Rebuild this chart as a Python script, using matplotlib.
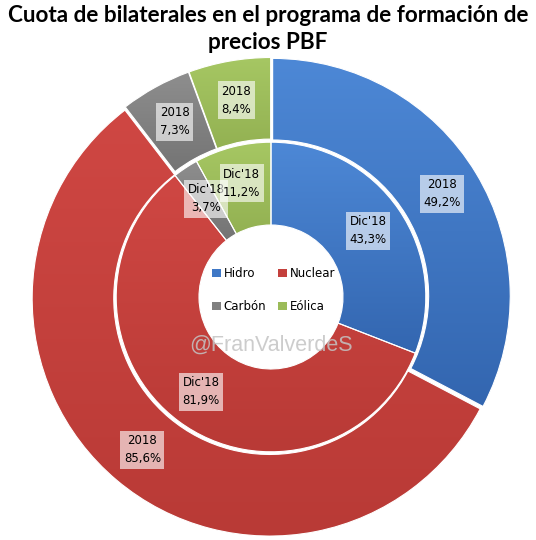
import matplotlib
matplotlib.use("Agg")
import matplotlib.pyplot as plt
import numpy as np
from matplotlib.colors import to_rgb
from matplotlib.patches import Patch

# ---- data ----
categories = ["Hidro", "Nuclear", "Carbón", "Eólica"]
vals_2018 = [49.2, 85.6, 7.3, 8.4]
vals_dic18 = [43.3, 81.9, 3.7, 11.2]
outer_tag = "2018"
inner_tag = "Dic'18"
title = "Cuota de bilaterales en el programa de formación de\nprecios PBF"
watermark = "@FranValverdeS"

# ---- styles ----
base_colors = ["#3f78c6", "#c4403c", "#808080", "#9bbb59"]
grad_top = ["#4d88d6", "#cf4743", "#8e8e8e", "#a6c763"]
grad_bot = ["#3366b0", "#b93a36", "#747474", "#93b152"]

W, H, DPI = 536, 540, 100
fig = plt.figure(figsize=(W / DPI, H / DPI), dpi=DPI)
fig.patch.set_facecolor("white")

cx, cy, R = 271, 297, 240  # chart centre / radius in pixels
lim = 1.1
half = R * lim
ax = fig.add_axes([(cx - half) / W, (H - cy - half) / H, 2 * half / W, 2 * half / H])
ax.set_aspect("equal")
ax.axis("off")


def fmt(tag, v):
    return f"{tag}\n{v:.1f}%".replace(".", ",")


EXP = 0.008
outer_w, _ = ax.pie(vals_2018, radius=0.99, startangle=90, counterclock=False,
                    colors=base_colors, explode=[EXP] * 4,
                    wedgeprops=dict(width=0.34, edgecolor="white", linewidth=0.8))
inner_w, _ = ax.pie(vals_dic18, radius=0.645, startangle=90, counterclock=False,
                    colors=base_colors,
                    wedgeprops=dict(width=0.345, edgecolor="white", linewidth=0.8))


def grad_fill(w, i):
    bb = w.get_path().get_extents()
    t = np.linspace(0, 1, 128)[:, None]
    c0 = np.array(to_rgb(grad_top[i]))
    c1 = np.array(to_rgb(grad_bot[i]))
    img = (c0[None, None, :] * (1 - t[:, :, None]) + c1[None, None, :] * t[:, :, None])
    im = ax.imshow(img, extent=[bb.x0, bb.x1, bb.y0, bb.y1], origin="upper",
                   aspect="auto", zorder=1, interpolation="bilinear")
    im.set_clip_path(w)
    w.set_facecolor("none")
    w.set_zorder(2)


for i, w in enumerate(outer_w):
    grad_fill(w, i)
for i, w in enumerate(inner_w):
    grad_fill(w, i)

ax.set_xlim(-lim, lim)
ax.set_ylim(-lim, lim)

box = dict(boxstyle="square,pad=0.3", facecolor="white", edgecolor="none", alpha=0.62)


def add_labels(vals, tag, r, explode=0.0):
    tot = sum(vals)
    cum = 0.0
    for v in vals:
        mid = 90 - (cum + v / 2) / tot * 360
        cum += v
        a = np.deg2rad(mid)
        rr = r + explode
        ax.text(rr * np.cos(a), rr * np.sin(a), fmt(tag, v), ha="center", va="center",
                fontsize=8.5, family="DejaVu Sans", color="black", bbox=box, zorder=5,
                linespacing=1.5)


add_labels(vals_2018, outer_tag, 0.825, EXP)
add_labels(vals_dic18, inner_tag, 0.49)

order = [0, 2, 1, 3]  # so that rows read Hidro, Nuclear / Carbón, Eólica
handles = [Patch(facecolor=base_colors[k], edgecolor="none") for k in order]
ax.legend(handles, [categories[k] for k in order], loc="center",
          bbox_to_anchor=(0.505, 0.513),
          ncol=2, frameon=False, handlelength=0.75, handleheight=0.75,
          handletextpad=0.25, columnspacing=1.0, labelspacing=1.7,
          prop=dict(family="DejaVu Sans", size=8.5))

ax.text(0.0, -0.2, watermark, ha="center", va="center", fontsize=15.5,
        family="Liberation Sans", color="#c4c4c4", alpha=0.85, zorder=6)

fig.text(0.5, 0.99, title, ha="center", va="top", fontsize=16.2,
         fontweight="bold", family="Lato", linespacing=1.35)

fig.savefig("out.png", dpi=DPI, facecolor="white")
